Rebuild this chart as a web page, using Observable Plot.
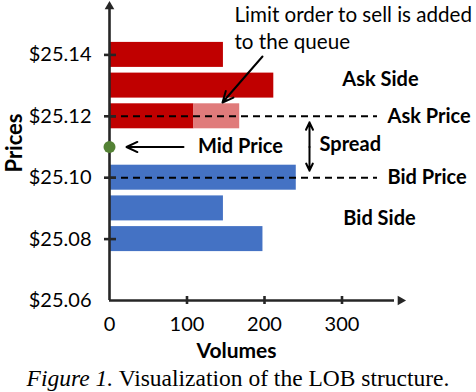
<!DOCTYPE html>
<html>
<head>
<meta charset="utf-8">
<script src="https://cdn.jsdelivr.net/npm/d3@7"></script>
<script src="https://cdn.jsdelivr.net/npm/@observablehq/plot@0.6"></script>
<style>
  html, body { margin: 0; padding: 0; background: #fff; }
  #chart { width: 476px; height: 362px; }
  #caption { width: 476px; text-align: center; font-family: "Liberation Serif", "Times New Roman", serif; font-size: 23.5px; line-height: 28px; color: #000; margin-top: 2px; white-space: nowrap; }
  #caption i { font-style: italic; }
</style>
</head>
<body>
<div id="chart"></div>
<div id="caption"><i>Figure 1.</i> Visualization of the LOB structure.</div>
<script>
// ---- data ----
const askPrices = [25.14, 25.13, 25.12];
const askVolumes = [147, 212, 109];
const addedVolume = 59;              // limit order added at the best ask
const bidPrices = [25.10, 25.09, 25.08];
const bidVolumes = [241, 147, 198];
const midPrice = 25.11;
const yTicks = [25.06, 25.08, 25.10, 25.12, 25.14];
const xTicks = [0, 100, 200, 300];

// ---- layout ----
const W = 476, H = 362;
const mL = 109, mB = H - 300;
const pxPerUnitX = 0.775;
const pxPerUnitY = 3070;
const xMax = (W - mL) / pxPerUnitX;
const yMin = 25.06, yMax = yMin + 300 / pxPerUnitY;
const half = 12.5 / pxPerUnitY;
const bestAsk = d3.min(askPrices), bestBid = d3.max(bidPrices);

const ask = askPrices.map((p, i) => ({p, v: askVolumes[i]}));
const bid = bidPrices.map((p, i) => ({p, v: bidVolumes[i]}));
const added = [{p: bestAsk, v0: askVolumes[askPrices.indexOf(bestAsk)], v1: askVolumes[askPrices.indexOf(bestAsk)] + addedVolume}];

const font = "Lato, 'Open Sans', sans-serif";
const axisColor = "#262626";
const px = v => v / pxPerUnitX;        // pixel -> x units
const py = v => v / pxPerUnitY;        // pixel -> y units

const chart = Plot.plot({
  width: W, height: H,
  marginLeft: mL, marginRight: 0, marginTop: 0, marginBottom: mB,
  style: {fontFamily: font, background: "#fff", overflow: "visible"},
  x: {domain: [0, xMax], axis: null},
  y: {domain: [yMin, yMax], axis: null},
  marks: [
    // bars
    Plot.rect(ask, {x1: 0, x2: "v", y1: d => d.p - half, y2: d => d.p + half, fill: "#C00000"}),
    Plot.rect(added, {x1: "v0", x2: "v1", y1: d => d.p - half, y2: d => d.p + half, fill: "#E07B7B"}),
    Plot.rect(bid, {x1: 0, x2: "v", y1: d => d.p - half, y2: d => d.p + half, fill: "#4472C4"}),
    // dashed price lines
    Plot.ruleY([bestAsk, bestBid], {x1: 0, x2: px(268), stroke: "#000", strokeWidth: 2, strokeDasharray: "7,5"}),
    // axes
    Plot.ruleX([0], {y1: yMin, y2: yMax - py(6), stroke: axisColor, strokeWidth: 2.6}),
    Plot.ruleY([yMin], {x1: 0, x2: px(285), stroke: axisColor, strokeWidth: 2.6}),
    Plot.dot([0], {x: 0, y: yMax, dy: 6, symbol: "triangle2", r: 4.6, fill: axisColor}),
    Plot.dot([0], {x: px(291), y: yMin, dx: 0, symbol: "triangle2", rotate: 90, r: 4.6, fill: axisColor}),
    // tick marks
    Plot.ruleY(yTicks.filter(t => t > yMin), {x1: -px(5), x2: px(7), stroke: axisColor, strokeWidth: 2.6}),
    Plot.ruleX(xTicks.filter(t => t > 0), {y1: yMin - py(4), y2: yMin + py(4), stroke: axisColor, strokeWidth: 2.6}),
    // tick labels
    Plot.text(yTicks, {x: 0, y: d => d, dx: -18, text: d => "$" + d.toFixed(2), textAnchor: "end", fontSize: 20, fill: "#000"}),
    Plot.text(xTicks, {x: d => d, y: yMin, dy: 24, text: d => String(d), fontSize: 20, fill: "#000"}),
    // axis titles
    Plot.text(["Volumes"], {x: px(127), y: yMin, dy: 51, fontSize: 21, fontWeight: "bold", fill: "#000"}),
    Plot.text(["Prices"], {x: -px(95), y: midPrice, dy: -4, rotate: -90, fontSize: 22, fontWeight: "bold", fill: "#000"}),
    // mid price
    Plot.dot([midPrice], {x: 0, y: d => d, r: 6, fill: "#548235"}),
    Plot.arrow([midPrice], {x1: px(74), x2: px(17), y1: d => d, y2: d => d, stroke: "#000", strokeWidth: 2, headLength: 9, headAngle: 50}),
    Plot.text(["Mid Price"], {x: px(131), y: midPrice, fontSize: 20, fontWeight: "bold", fill: "#000"}),
    // spread
    Plot.arrow([0], {x1: px(200), x2: px(200), y1: (bestAsk + bestBid) / 2, y2: bestAsk - py(6), stroke: "#000", strokeWidth: 2, headLength: 8, headAngle: 50}),
    Plot.arrow([0], {x1: px(200), x2: px(200), y1: (bestAsk + bestBid) / 2, y2: bestBid + py(7), stroke: "#000", strokeWidth: 2, headLength: 8, headAngle: 50}),
    Plot.text(["Spread"], {x: px(210), y: midPrice, dy: -2, textAnchor: "start", fontSize: 20, fontWeight: "bold", fill: "#000"}),
    // side / price labels
    Plot.text(["Ask Price"], {x: px(278), y: bestAsk, textAnchor: "start", fontSize: 20, fontWeight: "bold", fill: "#000"}),
    Plot.text(["Bid Price"], {x: px(278), y: bestBid, textAnchor: "start", fontSize: 20, fontWeight: "bold", fill: "#000"}),
    Plot.text(["Ask Side"], {x: px(271), y: askPrices[1], dy: -6, fontSize: 20, fontWeight: "bold", fill: "#000"}),
    Plot.text(["Bid Side"], {x: px(270), y: bidPrices[1], dy: 10, fontSize: 20, fontWeight: "bold", fill: "#000"}),
    // limit order annotation
    Plot.text(["Limit order to sell is added\nto the queue"], {x: px(125), y: yMax - py(26.5), textAnchor: "start", lineHeight: 1.32, fontSize: 20.6, fill: "#000"}),
    Plot.arrow([0], {x1: px(153), y1: yMax - py(56), x2: px(113), y2: yMax - py(102), stroke: "#000", strokeWidth: 2, headLength: 9, headAngle: 50})
  ]
});
document.getElementById("chart").appendChild(chart);
</script>
</body>
</html>
